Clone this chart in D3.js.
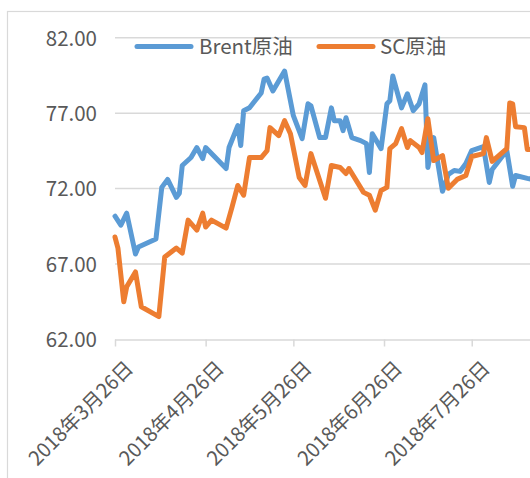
<!DOCTYPE html>
<html>
<head>
<meta charset="utf-8">
<script src="https://cdn.jsdelivr.net/npm/d3@7"></script>
<style>
  html, body { margin: 0; padding: 0; background: #fff; }
  svg { display: block; }
  text { font-family: "Noto Sans CJK SC", "Noto Sans", sans-serif; fill: #595959; }
</style>
</head>
<body>
<svg id="chart" width="530" height="478"></svg>
<script>
// ---- data ----
const seriesNames = ["Brent原油", "SC原油"];

const brentDates = ["2018-03-26","2018-03-28","2018-03-30","2018-04-02","2018-04-03","2018-04-09","2018-04-11","2018-04-13","2018-04-16","2018-04-17","2018-04-18","2018-04-21","2018-04-23","2018-04-25","2018-04-26","2018-05-03","2018-05-04","2018-05-07","2018-05-08","2018-05-09","2018-05-11","2018-05-15","2018-05-16","2018-05-17","2018-05-19","2018-05-23","2018-05-26","2018-05-29","2018-05-31","2018-06-01","2018-06-04","2018-06-06","2018-06-08","2018-06-09","2018-06-11","2018-06-12","2018-06-13","2018-06-15","2018-06-18","2018-06-20","2018-06-21","2018-06-22","2018-06-25","2018-06-27","2018-06-28","2018-06-29","2018-07-02","2018-07-04","2018-07-06","2018-07-08","2018-07-10","2018-07-11","2018-07-13","2018-07-16","2018-07-18","2018-07-20","2018-07-22","2018-07-24","2018-07-26","2018-07-30","2018-08-01","2018-08-02","2018-08-07","2018-08-09","2018-08-10","2018-08-14","2018-08-16"];
const brentValues = [70.17,69.58,70.37,67.67,68.13,68.66,72.08,72.61,71.42,71.69,73.53,74.06,74.72,73.99,74.72,73.33,74.72,76.17,74.85,77.16,77.36,78.34,79.26,79.33,78.47,79.79,76.83,75.31,77.62,77.49,75.38,75.38,77.35,76.50,76.50,75.84,76.70,75.38,75.18,74.98,73.07,75.64,74.65,77.62,77.82,79.46,77.35,78.28,77.16,77.62,78.87,73.40,75.38,71.82,72.94,73.20,73.14,73.66,74.52,74.78,72.41,73.27,74.52,72.15,72.87,72.68,72.60];

const scDates = ["2018-03-26","2018-03-27","2018-03-29","2018-03-30","2018-04-02","2018-04-04","2018-04-10","2018-04-12","2018-04-16","2018-04-18","2018-04-20","2018-04-23","2018-04-25","2018-04-26","2018-04-28","2018-05-03","2018-05-05","2018-05-07","2018-05-09","2018-05-11","2018-05-15","2018-05-17","2018-05-18","2018-05-21","2018-05-23","2018-05-25","2018-05-28","2018-05-30","2018-06-01","2018-06-06","2018-06-08","2018-06-11","2018-06-13","2018-06-14","2018-06-19","2018-06-21","2018-06-23","2018-06-25","2018-06-27","2018-06-28","2018-06-30","2018-07-02","2018-07-04","2018-07-05","2018-07-08","2018-07-09","2018-07-11","2018-07-13","2018-07-16","2018-07-18","2018-07-21","2018-07-24","2018-07-26","2018-07-30","2018-07-31","2018-08-02","2018-08-07","2018-08-08","2018-08-09","2018-08-10","2018-08-13","2018-08-14","2018-08-16"];
const scValues = [68.79,68.06,64.50,65.49,66.48,64.17,63.52,67.47,68.06,67.73,69.91,69.25,70.37,69.45,69.91,69.38,70.76,72.21,71.56,74.06,74.06,74.52,76.04,75.51,76.50,75.64,72.74,72.21,74.32,71.36,73.53,73.40,73.00,73.33,71.75,71.56,70.57,71.88,72.08,74.65,74.98,75.97,74.72,75.18,74.72,74.39,76.63,73.86,74.19,72.02,72.61,72.87,74.13,74.32,75.38,73.80,74.65,77.68,77.62,76.10,76.04,74.59,74.60];

const yTicks = [62, 67, 72, 77, 82];
const xTickDates = ["2018-03-26","2018-04-26","2018-05-26","2018-06-26","2018-07-26"];
const xTickLabels = ["2018年3月26日","2018年4月26日","2018年5月26日","2018年6月26日","2018年7月26日"];
const xDomain = ["2018-03-26", "2018-08-26"];

const colors = ["#5B9BD5", "#ED7D31"];
// ---- end data ----

const parse = d3.utcParse("%Y-%m-%d");
const svg = d3.select("#chart");
const gridColor = "#d9d9d9";

// chart frame
svg.append("rect")
  .attr("x", 7.5).attr("y", 11.5)
  .attr("width", 700).attr("height", 700)
  .attr("fill", "#fff").attr("stroke", gridColor).attr("stroke-width", 1.2);

const plotLeft = 115, plotTop = 37.7, plotBottom = 339.5;
const x = d3.scaleUtc()
  .domain(xDomain.map(parse))
  .range([plotLeft, plotLeft + 153 * 2.924]);
const y = d3.scaleLinear().domain([62, 82]).range([plotBottom, plotTop]);

// gridlines
svg.append("g").selectAll("line").data(yTicks.slice(1)).join("line")
  .attr("x1", plotLeft).attr("x2", 700)
  .attr("y1", d => y(d)).attr("y2", d => y(d))
  .attr("stroke", gridColor).attr("stroke-width", 1.5);

// y axis labels
const yAxis = d3.axisLeft(y).tickValues(yTicks).tickFormat(d3.format(".2f"))
  .tickSize(0).tickPadding(18);
const gy = svg.append("g").attr("transform", `translate(${plotLeft},0)`).call(yAxis);
gy.select(".domain").remove();
gy.selectAll("text")
  .attr("font-size", 20.5)
  .attr("font-family", '"Noto Sans", sans-serif')
  .attr("fill", "#595959")
  .attr("dy", "0.36em");

// x axis
const xAxis = d3.axisBottom(x)
  .tickValues(xTickDates.map(parse))
  .tickFormat((d, i) => xTickLabels[i])
  .tickSize(7).tickSizeOuter(0);
const gx = svg.append("g").attr("transform", `translate(0,${plotBottom})`).call(xAxis);
gx.select(".domain").attr("stroke", gridColor).attr("stroke-width", 1.5)
  .attr("d", `M${plotLeft},0.5H700`);
gx.selectAll(".tick line").attr("stroke", gridColor).attr("stroke-width", 1.5);
gx.selectAll(".tick text")
  .attr("font-size", 20)
  .attr("fill", "#595959")
  .attr("text-anchor", "end")
  .attr("y", 0).attr("dy", 0)
  .attr("transform", "translate(19,30) rotate(-45)");

// lines
const line = d3.line().x(d => x(d[0])).y(d => y(d[1]));
const series = [
  brentDates.map((d, i) => [parse(d), brentValues[i]]),
  scDates.map((d, i) => [parse(d), scValues[i]])
];
svg.append("g").selectAll("path").data(series).join("path")
  .attr("d", line)
  .attr("fill", "none")
  .attr("stroke", (d, i) => colors[i])
  .attr("stroke-width", 5)
  .attr("stroke-linejoin", "round")
  .attr("stroke-linecap", "round");

// legend
const legendItems = [
  { lx: 137, tx: 199 },
  { lx: 319, tx: 380 }
];
const lg = svg.append("g");
legendItems.forEach((it, i) => {
  lg.append("line")
    .attr("x1", it.lx).attr("x2", it.lx + 54)
    .attr("y1", 46.5).attr("y2", 46.5)
    .attr("stroke", colors[i]).attr("stroke-width", 5)
    .attr("stroke-linecap", "round");
  lg.append("text")
    .attr("x", it.tx).attr("y", 46.5).attr("dy", "0.36em")
    .attr("font-size", 20.5)
    .attr("fill", "#595959")
    .text(seriesNames[i]);
});
</script>
</body>
</html>
